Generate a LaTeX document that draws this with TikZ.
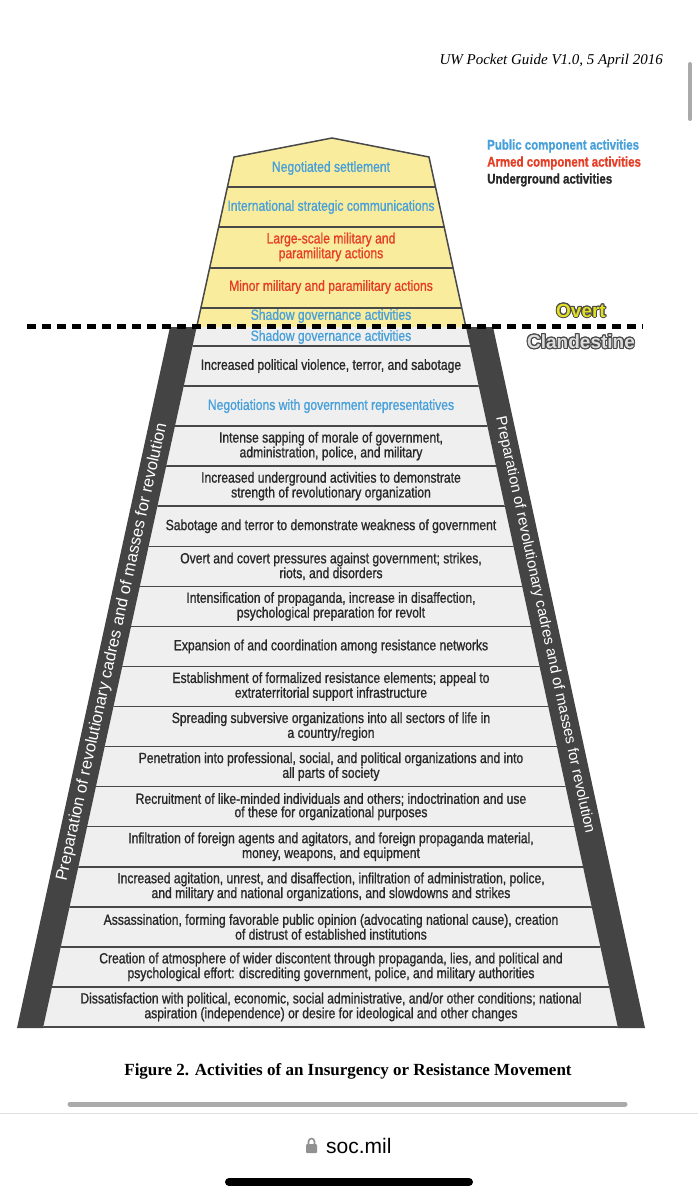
\documentclass[tikz,border=0pt]{standalone}
\usepackage{fontspec}
\usepackage{contour}
\usepackage{tikz}
\setmainfont{Liberation Sans}
\newfontfamily\narrowfont{Liberation Sans}[FakeStretch=0.82,FakeBold=1.0]
\newfontfamily\pagefont{Liberation Serif}
\contourlength{1pt}
\definecolor{yellowfill}{RGB}{249,236,157}
\definecolor{rowgray}{RGB}{239,239,239}
\definecolor{bandgray}{RGB}{68,68,68}
\definecolor{linegray}{RGB}{72,72,72}
\definecolor{pubblue}{RGB}{72,160,218}
\definecolor{armred}{RGB}{230,62,38}
\definecolor{ugtext}{RGB}{40,40,40}
\definecolor{overtyellow}{RGB}{226,222,40}
\definecolor{clandgray}{RGB}{222,222,222}
\definecolor{uigray}{RGB}{170,170,170}
\tikzstyle{rowtext} = [font=\narrowfont\fontsize{14.8}{13.3}\selectfont,
    align=center, inner sep=0pt, text=ugtext]
\tikzstyle{rule} = [draw=linegray, line width=1.5pt]
\tikzstyle{band} = [fill=bandgray]
\tikzstyle{bandtext} = [text=white, inner sep=0pt]
\tikzstyle{legend} = [font=\narrowfont\bfseries\fontsize{14}{14}\selectfont,
    anchor=west, inner sep=0pt]
\tikzstyle{zone} = [font=\bfseries\fontsize{19}{19}\selectfont, inner sep=0pt]

\begin{document}
\begin{tikzpicture}[x=1pt, y=-1pt]
  \useasboundingbox (0,0) rectangle (698,1200);
  % outline of the pyramid
  \coordinate (apex) at (332,138);
  \coordinate (tl) at (234,157);
  \coordinate (tr) at (429,157);
  \coordinate (ml) at (196.7,327);
  \coordinate (mr) at (465.9,327);
  \coordinate (bl) at (43,1028);
  \coordinate (br) at (618,1028);
  \fill [yellowfill] (tl) -- (apex) -- (tr) -- (mr) -- (ml) -- cycle;
  \fill [rowgray] (ml) -- (mr) -- (br) -- (bl) -- cycle;
  \begin{scope}
    \clip (tl) -- (tr) -- (br) -- (bl) -- cycle;
    \foreach \y in {187,227,268,308,346}
      \draw [rule] (0,\y) -- (698,\y);
    \foreach \k in {1,...,17}
      \draw [rule] (0,{346+40.06*\k}) -- (698,{346+40.06*\k});
  \end{scope}
  \draw [rule] (ml) -- (tl) -- (apex) -- (tr) -- (mr);
  % side bands
  \fill [band] (170,327) -- (ml) -- (bl) -- (17,1028) -- cycle;
  \fill [band] (mr) -- (493,327) -- (645,1028) -- (br) -- cycle;
  \node [bandtext, font=\fontsize{16.5}{16.5}\selectfont, rotate=77.63] (prepL) at (112.3,652)
    {Preparation of revolutionary cadres and of masses for revolution};
  \node [bandtext, font=\fontsize{15}{15}\selectfont, rotate=-77.84] (prepR) at (544.7,625)
    {Preparation of revolutionary cadres and of masses for revolution};
  % overt / clandestine border
  \coordinate (cutL) at (27,326);
  \coordinate (cutR) at (643,326);
  \draw [line width=5pt, dash pattern=on 9pt off 6pt] (cutL) -- (cutR);
  \node [zone] (overt) at (581,311) {\contour{linegray}{\textcolor{overtyellow}{Overt}}};
  \node [zone] (clandestine) at (581,342) {\contour{linegray}{\textcolor{clandgray}{Clandestine}}};
  % overt activities
  \node [rowtext, text=pubblue] (y1) at (331,168) {Negotiated settlement};
  \node [rowtext, text=pubblue] (y2) at (331,207) {International strategic communications};
  \node [rowtext, text=armred] (y3) at (331,247) {Large-scale military and\\paramilitary actions};
  \node [rowtext, text=armred] (y4) at (331,287) {Minor military and paramilitary actions};
  \node [rowtext, text=pubblue] (y5) at (331,316) {Shadow governance activities};
  \node [rowtext, text=pubblue] (r0) at (331,337) {Shadow governance activities};
  % clandestine activities
  \foreach \t [count=\i] in {
      {Increased political violence, terror, and sabotage},
      {Negotiations with government representatives},
      {Intense sapping of morale of government,\\administration, police, and military},
      {Increased underground activities to demonstrate\\strength of revolutionary organization},
      {Sabotage and terror to demonstrate weakness of government},
      {Overt and covert pressures against government; strikes,\\riots, and disorders},
      {Intensification of propaganda, increase in disaffection,\\psychological preparation for revolt},
      {Expansion of and coordination among resistance networks},
      {Establishment of formalized resistance elements; appeal to\\extraterritorial support infrastructure},
      {Spreading subversive organizations into all sectors of life in\\a country/region},
      {Penetration into professional, social, and political organizations and into\\all parts of society},
      {Recruitment of like-minded individuals and others; indoctrination and use\\of these for organizational purposes},
      {Infiltration of foreign agents and agitators, and foreign propaganda material,\\money, weapons, and equipment},
      {Increased agitation, unrest, and disaffection, infiltration of administration, police,\\and military and national organizations, and slowdowns and strikes},
      {Assassination, forming favorable public opinion (advocating national cause), creation\\of distrust of established institutions},
      {Creation of atmosphere of wider discontent through propaganda, lies, and political and\\psychological effort: discrediting government, police, and military authorities},
      {Dissatisfaction with political, economic, social administrative, and/or other conditions; national\\aspiration (independence) or desire for ideological and other changes}}
  {
    \def\rowcol{ugtext}
    \ifnum\i=2 \def\rowcol{pubblue}\fi
    \node [rowtext, text=\rowcol] (r\i) at (331,{346+40.06*(\i-0.5)}) {\t};
  }
  % legend
  \node [legend, text=pubblue] (lpub) at (487,146) {Public component activities};
  \node [legend, text=armred] (larm) at (487,163) {Armed component activities};
  \node [legend, text=ugtext] (lug) at (487,180) {Underground activities};
  % page around the figure
  \node [font=\pagefont\itshape\fontsize{15}{15}\selectfont, anchor=east, inner sep=0pt]
    (header) at (663,61) {UW Pocket Guide V1.0, 5 April 2016};
  \draw [uigray, line width=4pt, line cap=round] (690,64) -- (690,119);
  \node [font=\pagefont\bfseries\fontsize{17}{17}\selectfont, inner sep=0pt]
    (caption) at (348,1071) {Figure 2. Activities of an Insurgency or Resistance Movement};
  \draw [uigray, line width=5pt, line cap=round] (70,1104) -- (625,1104);
  \draw [black!12, line width=0.8pt] (0,1113) -- (698,1113);
  \fill [uigray!85!black, rounded corners=1pt] (306,1144) rectangle (317,1153);
  \draw [uigray!85!black, line width=1.6pt] (308.5,1144) -- (308.5,1141.5)
    arc (180:360:3) -- (314.5,1144);
  \node [font=\fontsize{21}{21}\selectfont, anchor=west, inner sep=0pt] (url) at (326,1146) {soc.mil};
  \draw [line width=8pt, line cap=round] (229,1182) -- (469,1182);
\end{tikzpicture}
\end{document}
